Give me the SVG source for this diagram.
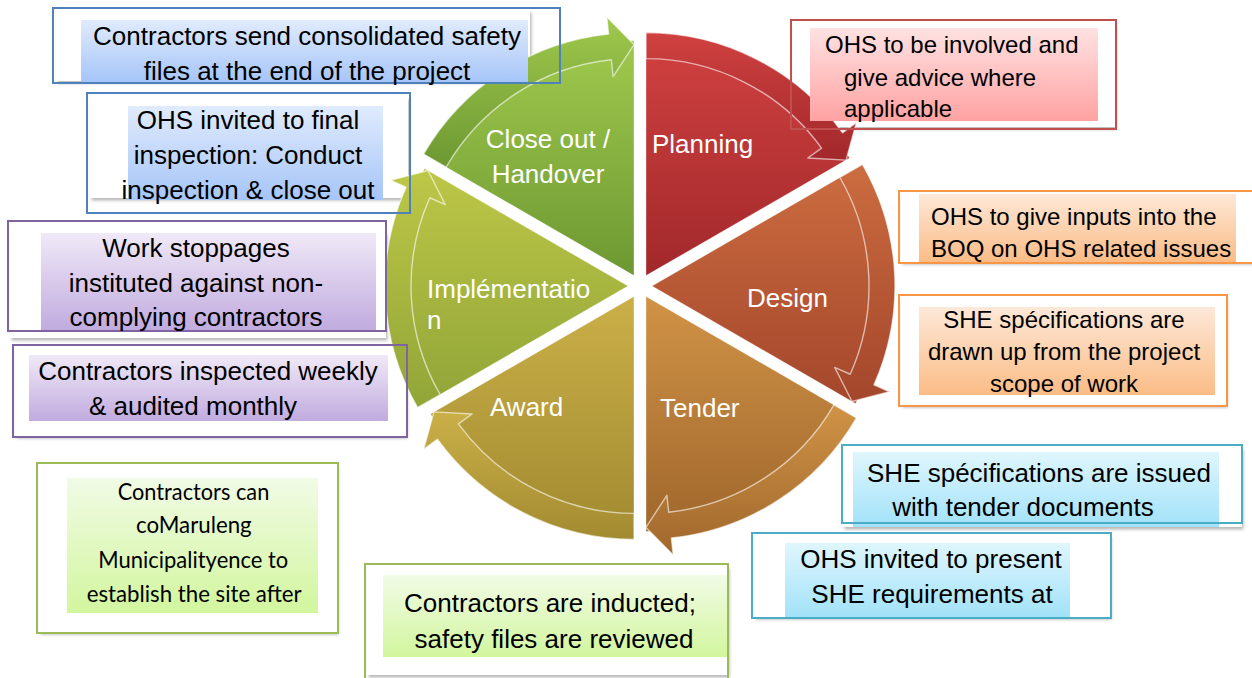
<svg xmlns="http://www.w3.org/2000/svg" width="1252" height="678" viewBox="0 0 1252 678">
<defs>
<style>
.lbl{font-family:"Liberation Sans",Arial,sans-serif;font-size:26px;fill:#ffffff}
.t26{font-family:"Liberation Sans",Arial,sans-serif;font-size:26px;fill:#000000}
.t24{font-family:"Liberation Sans",Arial,sans-serif;font-size:24px;fill:#000000}
.cal{font-family:Lato,"Open Sans",sans-serif;font-size:23px;fill:#000000}
.body{stroke:#ffffff;stroke-opacity:0.35;stroke-width:1}
.arr{stroke:#ffffff;stroke-opacity:0.6;stroke-width:1.4;stroke-linejoin:round}
.bw{fill:#ffffff;filter:url(#sh)}
.bd{fill:none;stroke-width:2}
.b-blue{stroke:#4f81bd}.b-purple{stroke:#8064a2}.b-green{stroke:#9bbb59}
.b-red{stroke:#c0504d}.b-orange{stroke:#f79646}.b-cyan{stroke:#4bacc6}
</style>
<filter id="sh" x="-5%" y="-10%" width="112%" height="130%">
<feDropShadow dx="1.5" dy="2.5" stdDeviation="1.5" flood-color="#000000" flood-opacity="0.28"/>
</filter>
<linearGradient id="gPlan" x1="0" y1="0" x2="0" y2="1"><stop offset="0" stop-color="#d04140"/><stop offset="1" stop-color="#a2282b"/></linearGradient>
<linearGradient id="gDes" x1="0" y1="0" x2="0" y2="1"><stop offset="0" stop-color="#cb6c40"/><stop offset="1" stop-color="#a4462b"/></linearGradient>
<linearGradient id="gTen" x1="0" y1="0" x2="0" y2="1"><stop offset="0" stop-color="#d09346"/><stop offset="1" stop-color="#a0672c"/></linearGradient>
<linearGradient id="gAwd" x1="0" y1="0" x2="0" y2="1"><stop offset="0" stop-color="#cbb048"/><stop offset="1" stop-color="#a28a30"/></linearGradient>
<linearGradient id="gImp" x1="0" y1="0" x2="0" y2="1"><stop offset="0" stop-color="#bdc747"/><stop offset="1" stop-color="#91a538"/></linearGradient>
<linearGradient id="gClo" x1="0" y1="0" x2="0" y2="1"><stop offset="0" stop-color="#a0c94d"/><stop offset="1" stop-color="#6d9832"/></linearGradient>
<linearGradient id="fBlue" x1="0" y1="0" x2="0" y2="1"><stop offset="0" stop-color="#e0ebfd"/><stop offset="1" stop-color="#a6c5f8"/></linearGradient>
<linearGradient id="fRed" x1="0" y1="0" x2="0" y2="1"><stop offset="0" stop-color="#ffe2e2"/><stop offset="1" stop-color="#ffa2a2"/></linearGradient>
<linearGradient id="fOrange" x1="0" y1="0" x2="0" y2="1"><stop offset="0" stop-color="#fde8d8"/><stop offset="1" stop-color="#fbbc86"/></linearGradient>
<linearGradient id="fPurple" x1="0" y1="0" x2="0" y2="1"><stop offset="0" stop-color="#f0e9f7"/><stop offset="1" stop-color="#c1abdf"/></linearGradient>
<linearGradient id="fCyan" x1="0" y1="0" x2="0" y2="1"><stop offset="0" stop-color="#dff6fd"/><stop offset="1" stop-color="#a2e2f9"/></linearGradient>
<linearGradient id="fGreen" x1="0" y1="0" x2="0" y2="1"><stop offset="0" stop-color="#f1fbe6"/><stop offset="1" stop-color="#d2f69e"/></linearGradient>
</defs>
<rect width="1252" height="678" fill="#ffffff"/>

<g id="box-shadows">
<rect class="bw" x="56" y="10" width="474" height="71"/>
<rect class="bw" x="90" y="97" width="318" height="101"/>
<rect class="bw" x="10" y="232" width="376" height="106"/>
<rect class="bw" x="15" y="347" width="391" height="89"/>
<rect class="bw" x="39" y="465" width="298" height="167"/>
<rect class="bw" x="367" y="566" width="361" height="109"/>
<rect class="bw" x="793" y="24" width="322" height="103"/>
<rect class="bw" x="901" y="193" width="360" height="69"/>
<rect class="bw" x="901" y="297" width="325" height="108"/>
<rect class="bw" x="843" y="447" width="399" height="80"/>
<rect class="bw" x="754" y="535" width="356" height="82"/>
</g>

<g id="wheel">
<g id="seg-planning">
<path class="body" fill="url(#gPlan)" d="M646,275.61 L646,40.61 A235,235 0 0 1 849.51,158.11 Z"/>
<path class="arr" fill="url(#gPlan)" d="M646,32.61 A243,243 0 0 1 842.59,132.77 L856.34,122.78 L846.05,160.11 L807.8,158.05 L821.55,148.06 A217,217 0 0 0 646,58.61 Z"/>
<text class="lbl" x="652" y="153">Planning</text>
</g>
<g id="seg-design">
<path class="body" fill="url(#gDes)" d="M652,286 L855.51,168.5 A235,235 0 0 1 855.51,403.5 Z"/>
<path class="arr" fill="url(#gDes)" d="M862.44,164.5 A243,243 0 0 1 873.98,384.83 L889.51,391.74 L852.05,401.5 L834.7,367.34 L850.23,374.25 A217,217 0 0 0 839.92,177.5 Z"/>
<text class="lbl" x="747" y="307">Design</text>
</g>
<g id="seg-tender">
<path class="body" fill="url(#gTen)" d="M646,296.39 L849.51,413.89 A235,235 0 0 1 646,531.39 Z"/>
<path class="arr" fill="url(#gTen)" d="M856.44,417.89 A243,243 0 0 1 671.39,538.05 L673.17,554.96 L646,527.39 L666.9,495.29 L668.68,512.2 A217,217 0 0 0 833.92,404.89 Z"/>
<text class="lbl" x="660" y="417">Tender</text>
</g>
<g id="seg-award">
<path class="body" fill="url(#gAwd)" d="M634,296.39 L634,531.39 A235,235 0 0 1 430.49,413.89 Z"/>
<path class="arr" fill="url(#gAwd)" d="M634,539.39 A243,243 0 0 1 437.41,439.23 L423.66,449.22 L433.95,411.89 L472.2,413.95 L458.45,423.94 A217,217 0 0 0 634,513.39 Z"/>
<text class="lbl" x="490" y="416">Award</text>
</g>
<g id="seg-implementation">
<path class="body" fill="url(#gImp)" d="M628,286 L424.49,403.5 A235,235 0 0 1 424.49,168.5 Z"/>
<path class="arr" fill="url(#gImp)" d="M417.56,407.5 A243,243 0 0 1 406.02,187.17 L390.49,180.26 L427.95,170.5 L445.3,204.66 L429.77,197.75 A217,217 0 0 0 440.08,394.5 Z"/>
<text class="lbl" x="427" y="298">Implémentatio</text>
<text class="lbl" x="427" y="329">n</text>
</g>
<g id="seg-closeout">
<path class="body" fill="url(#gClo)" d="M634,275.61 L430.49,158.11 A235,235 0 0 1 634,40.61 Z"/>
<path class="arr" fill="url(#gClo)" d="M423.56,154.11 A243,243 0 0 1 608.61,33.95 L606.83,17.04 L634,44.61 L613.1,76.71 L611.32,59.8 A217,217 0 0 0 446.08,167.11 Z"/>
<text class="lbl" x="548" y="148" text-anchor="middle">Close out /</text>
<text class="lbl" x="548" y="183" text-anchor="middle">Handover</text>
</g>
</g>

<g id="connectors"></g>

<g id="box-consolidated-files">
<rect x="81" y="20" width="447" height="62" fill="url(#fBlue)"/>
<rect class="bd b-blue" x="53" y="8" width="507" height="75"/>
<text class="t26" x="307" y="45" text-anchor="middle">Contractors send consolidated safety</text>
<text class="t26" x="307" y="80" text-anchor="middle">files at the end of the project</text>
</g>

<g id="box-final-inspection">
<rect x="128" y="106" width="255" height="94" fill="url(#fBlue)"/>
<rect class="bd b-blue" x="87" y="93" width="323" height="120"/>
<text class="t26" x="248" y="129" text-anchor="middle">OHS invited to final</text>
<text class="t26" x="248" y="164" text-anchor="middle">inspection: Conduct</text>
<text class="t26" x="248" y="199" text-anchor="middle">inspection &amp; close out</text>
</g>

<g id="box-work-stoppages">
<rect x="41" y="233" width="335" height="97" fill="url(#fPurple)"/>
<rect class="bd b-purple" x="8" y="221" width="378" height="110"/>
<text class="t26" x="196" y="257" text-anchor="middle">Work stoppages</text>
<text class="t26" x="196" y="292" text-anchor="middle">instituted against non-</text>
<text class="t26" x="196" y="326" text-anchor="middle">complying contractors</text>
</g>

<g id="box-inspected-weekly">
<rect x="29" y="355" width="359" height="66" fill="url(#fPurple)"/>
<rect class="bd b-purple" x="13" y="345" width="394" height="92"/>
<text class="t26" x="208" y="380" text-anchor="middle">Contractors inspected weekly</text>
<text class="t26" x="193" y="415" text-anchor="middle">&amp; audited monthly</text>
</g>

<g id="box-establish-site">
<rect x="67" y="478" width="251" height="135" fill="url(#fGreen)"/>
<rect class="bd b-green" x="37" y="463" width="301" height="170"/>
<text class="cal" x="117.7" y="500" textLength="151.6" lengthAdjust="spacingAndGlyphs">Contractors can</text>
<text class="cal" x="136" y="533" textLength="115.7" lengthAdjust="spacingAndGlyphs">coMaruleng</text>
<text class="cal" x="98.3" y="568" textLength="190" lengthAdjust="spacingAndGlyphs">Municipalityence to</text>
<text class="cal" x="86.7" y="602" textLength="215" lengthAdjust="spacingAndGlyphs">establish the site after</text>
</g>

<g id="box-inducted">
<rect x="383" y="575" width="344" height="82" fill="url(#fGreen)"/>
<rect class="bd b-green" x="365" y="564" width="363" height="130"/>
<text class="t26" x="550" y="612" text-anchor="middle">Contractors are inducted;</text>
<text class="t26" x="554" y="648" text-anchor="middle">safety files are reviewed</text>
</g>

<g id="box-planning-advice">
<rect x="810" y="28" width="288" height="93" fill="url(#fRed)"/>
<rect class="bd b-red" x="791" y="20" width="325" height="109"/>
<text class="t24" x="825" y="53">OHS to be involved and</text>
<text class="t24" x="844" y="86">give advice where</text>
<text class="t24" x="844" y="117">applicable</text>
</g>

<g id="box-boq-inputs">
<rect x="919" y="194" width="317" height="68" fill="url(#fOrange)"/>
<rect class="bd b-orange" x="899" y="191" width="361" height="72"/>
<text class="t24" x="931" y="225">OHS to give inputs into the</text>
<text class="t24" x="931" y="257">BOQ on OHS related issues</text>
</g>

<g id="box-she-drawn">
<rect x="919" y="307" width="296" height="88" fill="url(#fOrange)"/>
<rect class="bd b-orange" x="899" y="295" width="328" height="111"/>
<text class="t24" x="1064" y="328" text-anchor="middle">SHE spécifications are</text>
<text class="t24" x="1064" y="360" text-anchor="middle">drawn up from the project</text>
<text class="t24" x="1064" y="392" text-anchor="middle">scope of work</text>
</g>

<g id="box-she-issued">
<rect x="853" y="452" width="366" height="75" fill="url(#fCyan)"/>
<rect class="bd b-cyan" x="842" y="445" width="400" height="78"/>
<text class="t26" x="1039" y="482" text-anchor="middle">SHE spécifications are issued</text>
<text class="t26" x="1023" y="516" text-anchor="middle">with tender documents</text>
</g>

<g id="box-present-she">
<rect x="785" y="543" width="285" height="74" fill="url(#fCyan)"/>
<rect class="bd b-cyan" x="752" y="533" width="359" height="85"/>
<text class="t26" x="931" y="568" text-anchor="middle">OHS invited to present</text>
<text class="t26" x="932" y="603" text-anchor="middle">SHE requirements at</text>
</g>
</svg>
